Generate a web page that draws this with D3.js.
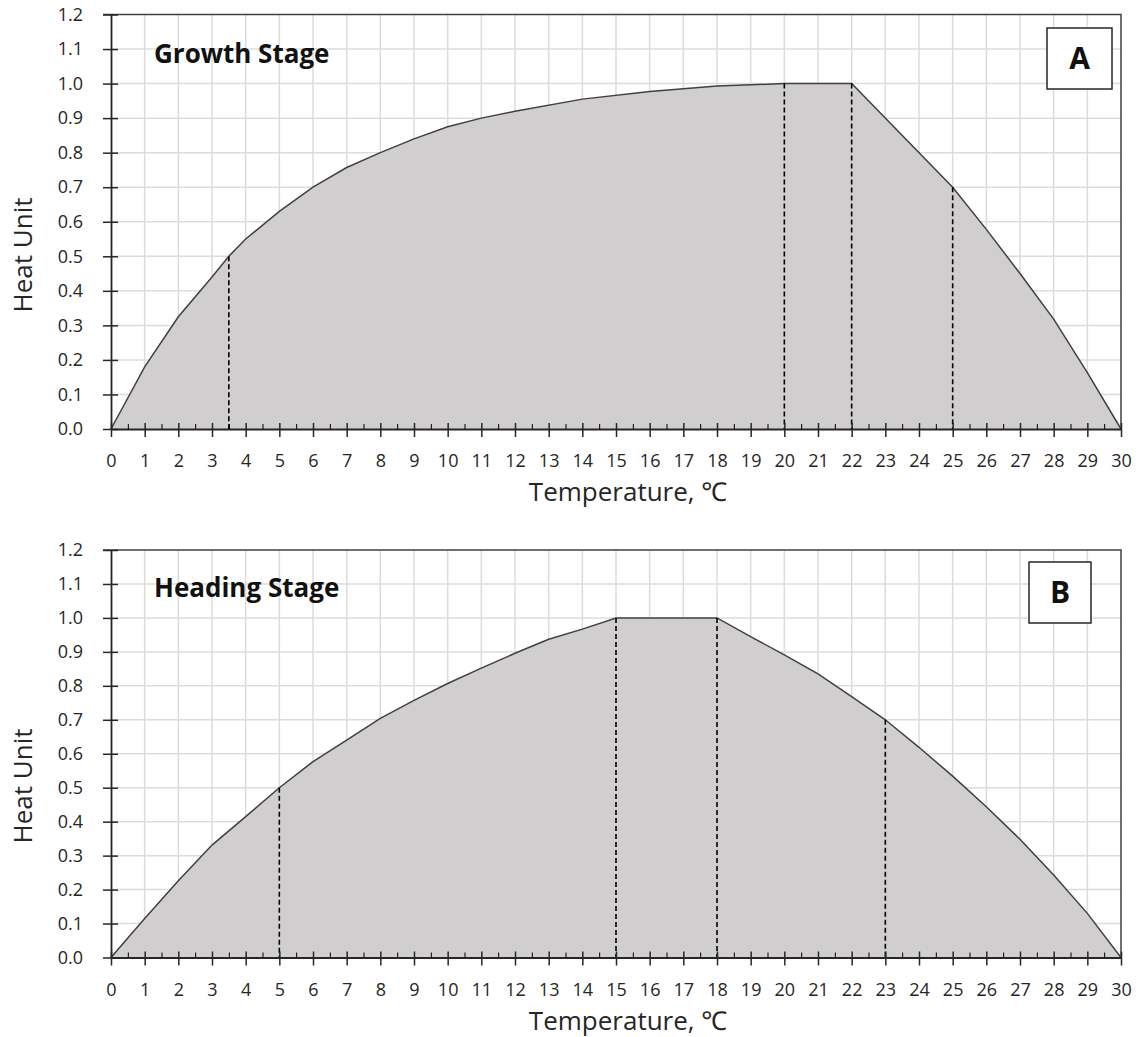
<!DOCTYPE html>
<html>
<head>
<meta charset="utf-8">
<script src="https://cdn.jsdelivr.net/npm/d3@7"></script>
<style>
  body { margin: 0; background: #fff; }
  svg { display: block; font-family: "Open Sans", "Noto Sans", sans-serif; }
</style>
</head>
<body>
<svg id="chart"></svg>
<script>
// Growth stage curve (panel A)
const growthTemp = [0, 1, 2, 3, 3.5, 4, 5, 6, 7, 8, 9, 10, 11, 12, 14, 16, 18, 20, 22, 25, 26, 27, 28, 29, 30];
const growthHeat = [0, 0.18, 0.325, 0.44, 0.5, 0.55, 0.63, 0.70, 0.757, 0.80, 0.84, 0.875, 0.90, 0.92, 0.955, 0.977, 0.993, 1.0, 1.0, 0.70, 0.578, 0.45, 0.318, 0.163, 0];
const growthMarkTemp = [3.5, 20, 22, 25];
const growthMarkHeat = [0.5, 1.0, 1.0, 0.7];

// Heading stage curve (panel B)
const headingTemp = [0, 1, 2, 3, 4, 5, 6, 7, 8, 9, 10, 11, 12, 13, 14, 15, 18, 19, 20, 21, 22, 23, 24, 25, 26, 27, 28, 29, 30];
const headingHeat = [0, 0.115, 0.226, 0.331, 0.415, 0.5, 0.577, 0.64, 0.704, 0.757, 0.807, 0.852, 0.896, 0.937, 0.967, 1.0, 1.0, 0.945, 0.891, 0.835, 0.768, 0.70, 0.619, 0.534, 0.444, 0.348, 0.243, 0.13, 0];
const headingMarkTemp = [5, 15, 18, 23];
const headingMarkHeat = [0.5, 1.0, 1.0, 0.7];

// Tick values
const xTicks = d3.range(0, 31, 1);
const xMinorTicks = d3.range(0.5, 30, 1);
const yTicks = d3.range(0, 13, 1).map(d => d / 10);

const width = 1141;
const height = 1037;
const svg = d3.select('#chart').attr('width', width).attr('height', height);

const xScale = d3.scaleLinear().domain([0, 30]).range([111, 1121]);

function drawPanel(opts) {
    const yScale = d3.scaleLinear().domain([0, 1.2]).range([opts.bottom, opts.top]);
    const g = svg.append('g');
    const data = opts.temp.map((t, i) => ({ t: t, h: opts.heat[i] }));

    // Grid lines
    g.append('g').selectAll('line')
        .data(xTicks.slice(1, -1))
        .join('line')
        .attr('x1', d => xScale(d)).attr('x2', d => xScale(d))
        .attr('y1', opts.top).attr('y2', opts.bottom)
        .attr('stroke', '#dcdcdc').attr('stroke-width', 1.5);
    g.append('g').selectAll('line')
        .data(yTicks.slice(1, -1))
        .join('line')
        .attr('x1', xScale(0)).attr('x2', xScale(30))
        .attr('y1', d => yScale(d)).attr('y2', d => yScale(d))
        .attr('stroke', '#dcdcdc').attr('stroke-width', 1.5);

    // Area + line
    const area = d3.area().x(d => xScale(d.t)).y0(yScale(0)).y1(d => yScale(d.h));
    const line = d3.line().x(d => xScale(d.t)).y(d => yScale(d.h));
    g.append('path').datum(data).attr('d', area).attr('fill', '#d0cece');
    g.append('path').datum(data).attr('d', line)
        .attr('fill', 'none').attr('stroke', '#404040').attr('stroke-width', 1.5);

    // Dashed drop lines
    g.append('g').selectAll('line')
        .data(opts.markTemp.map((t, i) => ({ t: t, h: opts.markHeat[i] })))
        .join('line')
        .attr('x1', d => xScale(d.t)).attr('x2', d => xScale(d.t))
        .attr('y1', d => yScale(d.h)).attr('y2', yScale(0))
        .attr('stroke', '#000').attr('stroke-width', 1.6)
        .attr('stroke-dasharray', '5,3');

    // Top & right frame
    g.append('path')
        .attr('d', `M${xScale(0) - 8},${opts.top}H${xScale(30)}V${opts.bottom}`)
        .attr('fill', 'none').attr('stroke', '#404040').attr('stroke-width', 1.5);

    // X axis (major ticks cross the axis, minor ticks point up)
    const xAxis = g.append('g')
        .attr('transform', `translate(0, ${yScale(0)})`)
        .call(d3.axisBottom(xScale).tickValues(xTicks).tickSize(8).tickSizeOuter(0).tickFormat(d3.format('d')));
    xAxis.selectAll('.tick line').attr('y1', -6);
    xAxis.selectAll('.tick text').attr('y', 38).attr('dy', 0);
    g.append('g')
        .attr('transform', `translate(0, ${yScale(0)})`)
        .call(d3.axisBottom(xScale).tickValues(xMinorTicks).tickSize(-5).tickSizeOuter(0).tickFormat(''))
        .select('.domain').remove();

    // Y axis
    const yAxis = g.append('g')
        .attr('transform', `translate(${xScale(0)}, 0)`)
        .call(d3.axisLeft(yScale).tickValues(yTicks).tickSize(8).tickSizeOuter(0).tickFormat(d3.format('.1f')));
    yAxis.selectAll('.tick line').attr('x1', 7);
    yAxis.selectAll('.tick text').attr('x', -28);

    [xAxis, yAxis].forEach(a => {
        a.select('.domain').attr('stroke', '#262626').attr('stroke-width', 1.8);
        a.selectAll('.tick line').attr('stroke', '#262626').attr('stroke-width', 1.5);
        a.selectAll('.tick text').attr('font-size', 18).attr('fill', '#262626')
            .attr('font-family', '"Open Sans", sans-serif');
    });

    // Axis titles
    g.append('text')
        .attr('x', 628).attr('y', yScale(0) + 72)
        .attr('text-anchor', 'middle').attr('font-size', 26).attr('fill', '#262626')
        .text('Temperature, ℃');
    g.append('text')
        .attr('transform', `translate(32, ${opts.yTitleY}) rotate(-90)`)
        .attr('text-anchor', 'middle').attr('font-size', 26).attr('fill', '#262626')
        .text('Heat Unit');

    // Stage title
    g.append('text')
        .attr('x', 154).attr('y', opts.top + opts.titleDy)
        .attr('font-size', 26).attr('font-weight', 'bold').attr('fill', '#111')
        .text(opts.title);

    // Panel letter box
    g.append('rect')
        .attr('x', opts.boxX).attr('y', opts.top + opts.boxDy)
        .attr('width', opts.boxW).attr('height', 61)
        .attr('fill', '#fff').attr('stroke', '#262626').attr('stroke-width', 1.5);
    g.append('text')
        .attr('x', opts.boxX + opts.boxW / 2).attr('y', opts.top + opts.boxDy + 41)
        .attr('text-anchor', 'middle').attr('font-size', 30).attr('font-weight', 'bold').attr('fill', '#111')
        .text(opts.letter);
}

drawPanel({
    top: 14.5, bottom: 429,
    temp: growthTemp, heat: growthHeat,
    markTemp: growthMarkTemp, markHeat: growthMarkHeat,
    title: 'Growth Stage', titleDy: 48,
    letter: 'A', boxX: 1047, boxW: 65, boxDy: 13.5,
    yTitleY: 255
});

drawPanel({
    top: 550, bottom: 957.5,
    temp: headingTemp, heat: headingHeat,
    markTemp: headingMarkTemp, markHeat: headingMarkHeat,
    title: 'Heading Stage', titleDy: 47,
    letter: 'B', boxX: 1029, boxW: 62, boxDy: 12,
    yTitleY: 786
});
</script>
</body>
</html>
